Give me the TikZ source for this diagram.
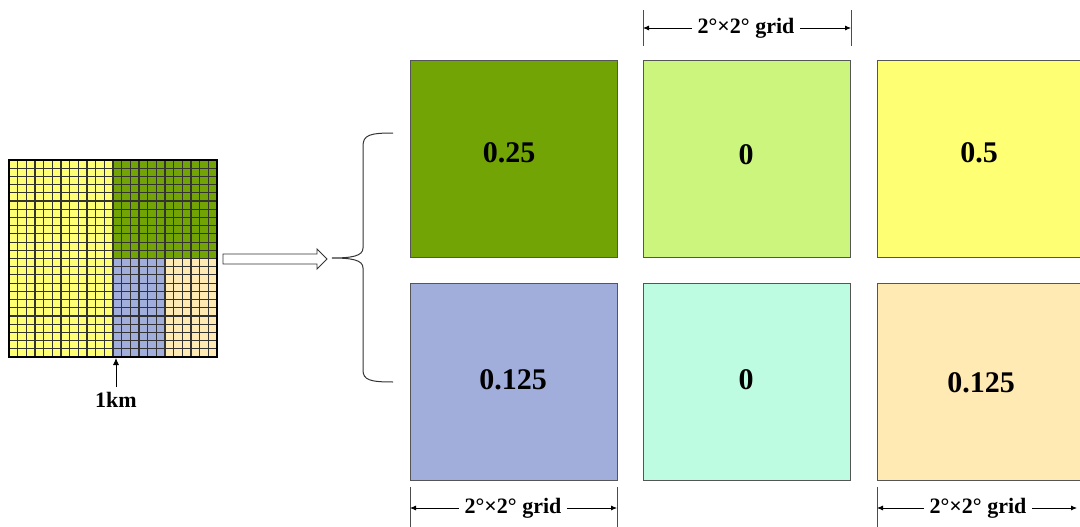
\documentclass[tikz,border=0pt]{standalone}
\usepackage{fontspec}
\setmainfont{Liberation Serif}
\usetikzlibrary{arrows.meta}
\definecolor{cgreen}{HTML}{72A405}
\definecolor{clgreen}{HTML}{CCF57D}
\definecolor{cyellow}{HTML}{FFFF73}
\definecolor{cblue}{HTML}{A1AEDB}
\definecolor{cmint}{HTML}{BEFCE2}
\definecolor{cpeach}{HTML}{FFEAB4}
\definecolor{edge}{HTML}{555555}
\begin{document}
\begin{tikzpicture}[x=1pt,y=-1pt,
  box/.style={draw=edge, line width=1pt, minimum width=207pt, minimum height=197pt, anchor=north west, inner sep=0pt},
  val/.style={font=\bfseries\fontsize{30}{32}\selectfont, inner sep=0pt},
  dimtext/.style={fill=white, font=\bfseries\fontsize{22}{24}\selectfont, inner sep=6pt},
  dimline/.style={line width=0.8pt, {Latex[length=6pt,width=5pt]}-{Latex[length=6pt,width=5pt]}},
  tick/.style={line width=0.8pt, draw=black!70}]
\useasboundingbox (0,0) rectangle (1080,527);
\clip (0,0) rectangle (1080,527);

% ---- fine grid (left) ----
\begin{scope}[shift={(9,160)}, x=8.667pt, y=-8.208pt]
  \fill[cyellow] (0,0) rectangle (12,24);
  \fill[cgreen] (12,0) rectangle (24,12);
  \fill[cblue] (12,12) rectangle (18,24);
  \fill[cpeach] (18,12) rectangle (24,24);
  \foreach \i in {0,...,24} {
    \draw[line width=1.1pt, draw=black!80] (\i,0) -- (\i,24);
    \draw[line width=1.1pt, draw=black!80] (0,\i) -- (24,\i);
  }
  \draw[line width=1.2pt] (0,0) rectangle (24,24);
\end{scope}
\node[minimum width=208pt, minimum height=197pt, anchor=north west, inner sep=0pt] (grid) at (9,160) {};
\coordinate (kmtip) at (116,358);
\node[font=\bfseries\fontsize{22}{24}\selectfont, inner sep=1pt] (km) at (116,400) {1km};
\draw[line width=0.8pt, -{Latex[length=7pt,width=6pt]}] (km.north) ++(0,-4) -- (kmtip);

% ---- hollow arrow ----
\draw[line width=0.9pt, fill=white, draw=black!80]
  (223,254) -- (317,254) -- (317,249) -- (327,259) -- (317,269) -- (317,264) -- (223,264) -- cycle;

% ---- brace ----
\draw[line width=1pt, draw=black!80]
  (393,133) .. controls (370,133) and (363,135) .. (363,146)
  -- (363,248) .. controls (363,256) and (352,258) .. (332,258)
  .. controls (352,258) and (363,260) .. (363,268)
  -- (363,370) .. controls (363,380) and (370,382) .. (393,382);

% ---- boxes ----
\node[box, fill=cgreen]  (b1) at (410,60) {};
\node[box, fill=clgreen] (b2) at (643,60) {};
\node[box, fill=cyellow] (b3) at (877,60) {};
\node[box, fill=cblue]   (b4) at (410,283) {};
\node[box, fill=cmint]   (b5) at (643,283) {};
\node[box, fill=cpeach]  (b6) at (877,283) {};

\node[val] (v1) at (509,153) {0.25};
\node[val] (v2) at (746,155) {0};
\node[val] (v3) at (979,153) {0.5};
\node[val] (v4) at (513,380) {0.125};
\node[val] (v5) at (746,380) {0};
\node[val] (v6) at (981,383) {0.125};

% ---- dimension lines ----
\coordinate (t1a) at (643,10); \coordinate (t1b) at (643,46);
\coordinate (t2a) at (851,10); \coordinate (t2b) at (851,46);
\draw[tick] (t1a) -- (t1b);
\draw[tick] (t2a) -- (t2b);
\coordinate (d1a) at (643,28); \coordinate (d1b) at (851,28);
\draw[dimline] (d1a) -- (d1b);
\node[dimtext] (g1) at (746,28) {2°×2° grid};

\coordinate (t3a) at (410,487); \coordinate (t3b) at (410,527);
\coordinate (t4a) at (617,487); \coordinate (t4b) at (617,527);
\draw[tick] (t3a) -- (t3b);
\draw[tick] (t4a) -- (t4b);
\coordinate (d2a) at (410,508); \coordinate (d2b) at (617,508);
\draw[dimline] (d2a) -- (d2b);
\node[dimtext] (g2) at (513,508) {2°×2° grid};

\coordinate (t5a) at (877,487); \coordinate (t5b) at (877,527);
\draw[tick] (t5a) -- (t5b);
\coordinate (d3a) at (877,508); \coordinate (d3b) at (1077,508);
\draw[dimline] (d3a) -- (d3b);
\node[dimtext] (g3) at (978,508) {2°×2° grid};
\end{tikzpicture}
\end{document}
